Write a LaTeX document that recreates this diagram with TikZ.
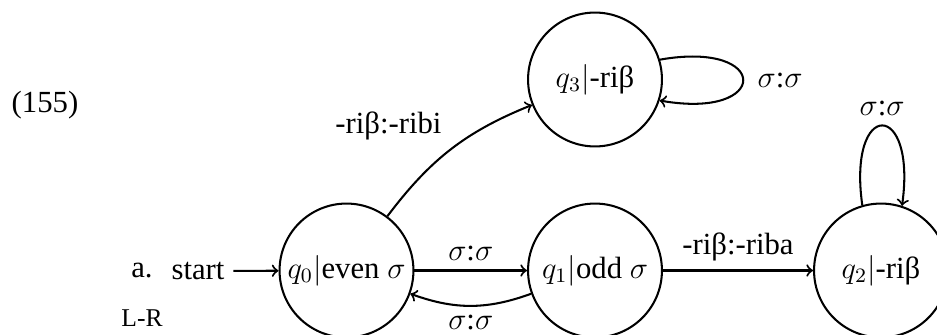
\documentclass[tikz,border=0pt]{standalone}
\usepackage[no-math]{fontspec}
\setmainfont{Liberation Serif}

\begin{document}
\begin{tikzpicture}[x=0.3906pt,y=-0.3906pt,font=\fontsize{12}{14}\selectfont,
    state/.style={circle,draw,thick,minimum size=52.3pt,inner sep=0pt},
    trans/.style={thick,->}]
    \useasboundingbox (0,0) rectangle (937,335);

    % Example number and side labels
    \node (num) at (45,105) {(155)};
    \node (item) at (142,271) {a.};
    \node (start) at (198,271) {start};
    \node[font=\fontsize{10}{12}\selectfont] (dir) at (142,318) {L-R};

    % States
    \node[state] (q0) at (346.5,270.5) {$q_0|$even $\sigma$};
    \node[state] (q1) at (595,270.5) {$q_1|$odd $\sigma$};
    \node[state] (q2) at (881,270.5) {$q_2|$-riβ};
    \node[state] (q3) at (595,79.5) {$q_3|$-riβ};

    % Transitions
    \draw[trans] (start) -- (q0);
    \draw[trans] (q0) -- node[above] {$\sigma$:$\sigma$} (q1);
    \draw[trans] (q1) to[out=200,in=-20] node[below] {$\sigma$:$\sigma$} (q0);
    \draw[trans] (q1) -- node[above] {-riβ:-riba} (q2);
    \draw[trans] (q0) to[out=53,in=202] node[pos=0.5,above left] {-riβ:-ribi} (q3);

    % Loops
    \draw[trans] (q3.17) to[out=10,in=-10,distance=44pt] node[right=2pt] {$\sigma$:$\sigma$} (q3.-18);
    \draw[trans] (q2.106) to[out=98,in=82,distance=42pt] node[above] {$\sigma$:$\sigma$} (q2.72);
\end{tikzpicture}
\end{document}
